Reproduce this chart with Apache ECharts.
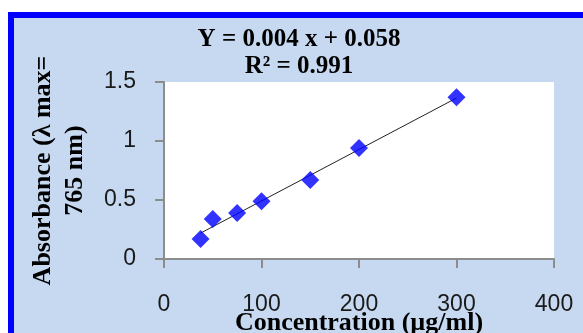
<!DOCTYPE html>
<html>
<head>
<meta charset="utf-8">
<script src="https://cdn.jsdelivr.net/npm/echarts@6/dist/echarts.min.js"></script>
<style>
  html, body { margin: 0; padding: 0; background: #ffffff; }
  #wrap { position: relative; width: 583px; height: 333px; overflow: hidden; background: #ffffff; }
  #frame { position: absolute; left: 8px; top: 12px; width: 600px; height: 400px;
           background: #C6D9F0; border-left: 6px solid #0000FF; border-top: 6px solid #0000FF; }
  #chart { position: absolute; left: 0; top: 0; width: 583px; height: 333px; }
</style>
</head>
<body>
<div id="wrap">
  <div id="frame"></div>
  <div id="chart"></div>
</div>
<script>
// Data
const concentration = [37.5, 50, 75, 100, 150, 200, 300];   // µg/ml
const absorbance    = [0.17, 0.34, 0.39, 0.49, 0.67, 0.94, 1.37];
const xTicks = [0, 100, 200, 300, 400];
const yTicks = [0, 0.5, 1, 1.5];
const equationText = 'Y = 0.004 x + 0.058';
const r2Text = 'R² = 0.991';
const xAxisTitle = 'Concentration (µg/ml)';
const yAxisTitle = 'Absorbance (λ max=\n765 nm)';

// Least-squares trendline computed from the data
const n = concentration.length;
const mx = concentration.reduce((a, b) => a + b, 0) / n;
const my = absorbance.reduce((a, b) => a + b, 0) / n;
let sxy = 0, sxx = 0;
for (let i = 0; i < n; i++) {
  sxy += (concentration[i] - mx) * (absorbance[i] - my);
  sxx += (concentration[i] - mx) * (concentration[i] - mx);
}
const slope = sxy / sxx;
const intercept = my - slope * mx;
const xMin = Math.min(...concentration), xMax = Math.max(...concentration);
const trend = [[xMin, intercept + slope * xMin], [xMax, intercept + slope * xMax]];

const serif = '"Liberation Serif", "Times New Roman", serif';
const sans = '"Liberation Sans", Arial, sans-serif';

const chart = echarts.init(document.getElementById('chart'), null, { renderer: 'canvas' });
chart.setOption({
  backgroundColor: 'transparent',
  animation: false,
  title: {
    text: equationText + '\n' + r2Text,
    left: 294, top: 21, textAlign: 'center',
    textStyle: { fontFamily: serif, fontWeight: 'bold', fontSize: 25, lineHeight: 27, color: '#000' }
  },
  grid: { left: 164, right: 29, top: 82, bottom: 74, show: true, backgroundColor: '#ffffff', borderWidth: 0,
          containLabel: false, outerBoundsMode: 'none' },
  xAxis: {
    type: 'value', min: xTicks[0], max: xTicks[xTicks.length - 1], interval: 100,
    name: xAxisTitle, nameLocation: 'middle', nameGap: 51, nameMoveOverlap: false,
    nameTextStyle: { fontFamily: serif, fontWeight: 'bold', fontSize: 26, color: '#000' },
    axisLine: { show: true, onZero: false, lineStyle: { color: '#8c8c8c', width: 2 } },
    axisTick: { show: true, length: 9, lineStyle: { color: '#8c8c8c', width: 2 } },
    axisLabel: { margin: 34, fontFamily: sans, fontSize: 23, color: '#1a1a1a' },
    splitLine: { show: false }
  },
  yAxis: {
    type: 'value', min: yTicks[0], max: yTicks[yTicks.length - 1], interval: 0.5,
    name: yAxisTitle, nameLocation: 'middle', nameGap: 73, nameRotate: 90, nameMoveOverlap: false,
    nameTextStyle: { fontFamily: serif, fontWeight: 'bold', fontSize: 26, lineHeight: 32, color: '#000', align: 'center' },
    axisLine: { show: true, onZero: false, lineStyle: { color: '#8c8c8c', width: 2 } },
    axisTick: { show: true, length: 9, lineStyle: { color: '#8c8c8c', width: 2 } },
    axisLabel: { margin: 28, fontFamily: sans, fontSize: 23, color: '#1a1a1a' },
    splitLine: { show: false }
  },
  series: [
    {
      type: 'line', data: trend, symbol: 'none', silent: true,
      lineStyle: { color: '#222', width: 1 }, z: 2
    },
    {
      type: 'scatter', data: concentration.map((c, i) => [c, absorbance[i]]),
      symbol: 'diamond', symbolSize: 18,
      itemStyle: { color: '#0000FF' }, z: 3
    }
  ]
});
</script>
</body>
</html>
